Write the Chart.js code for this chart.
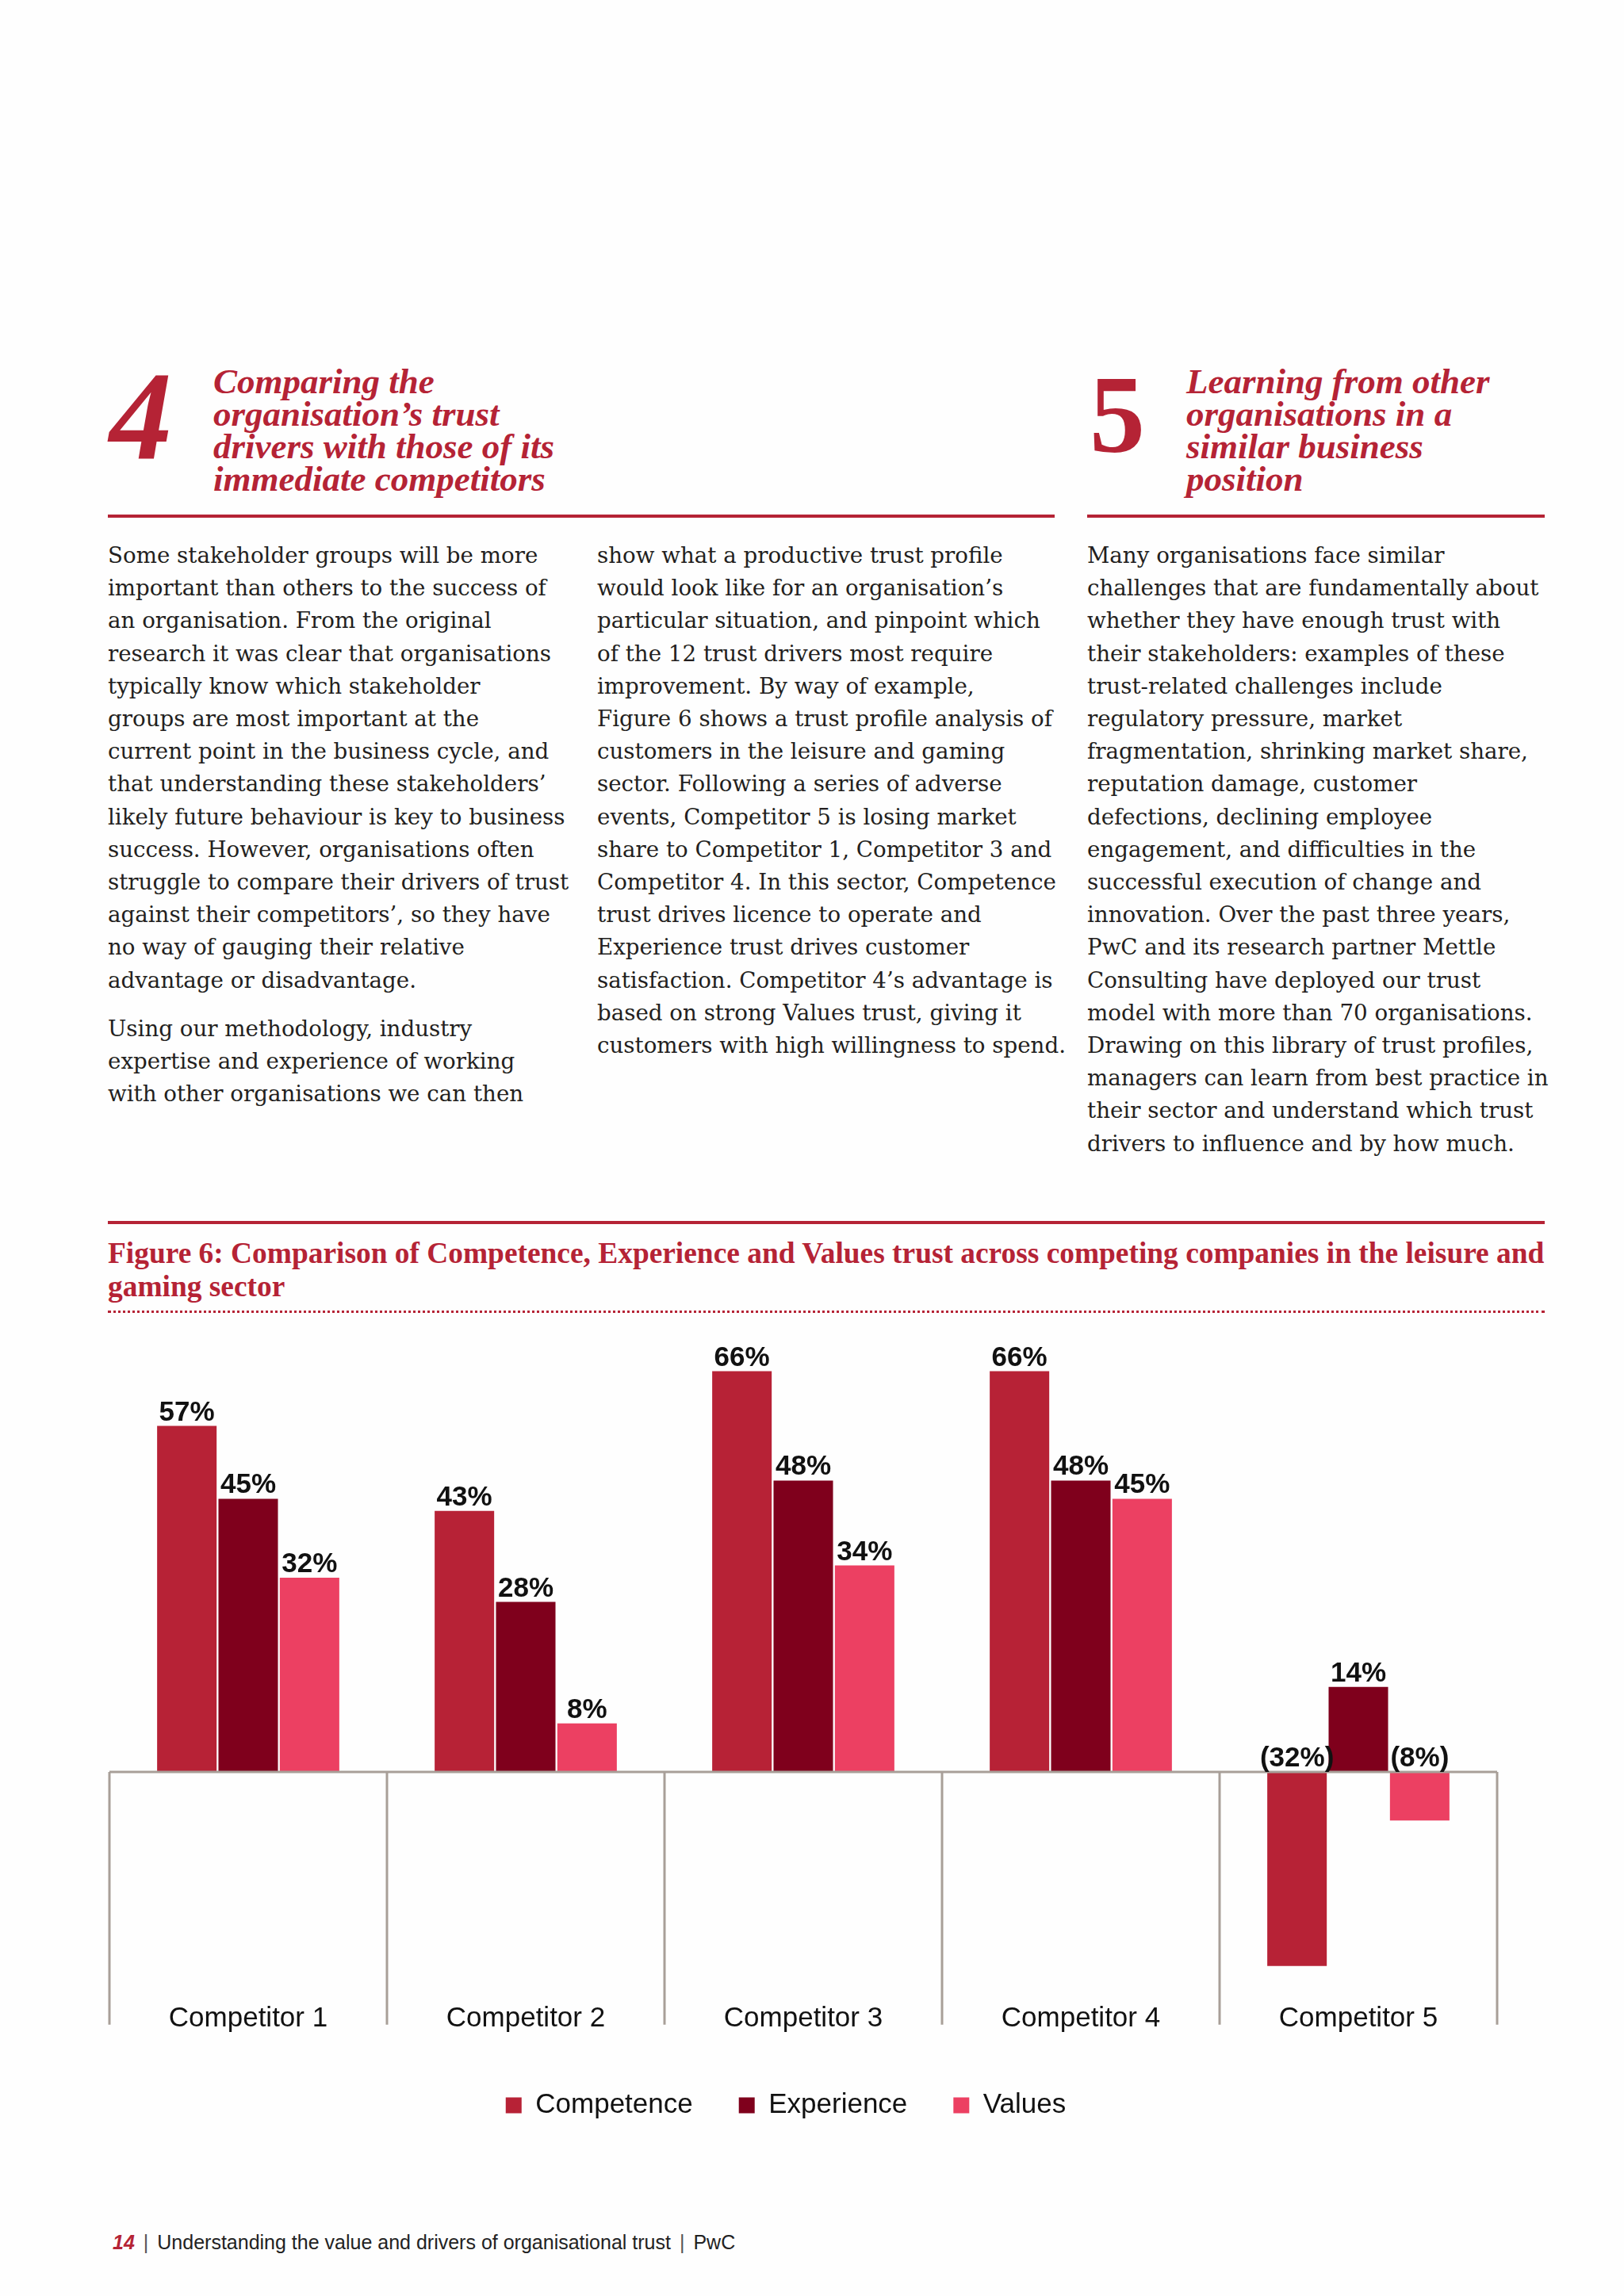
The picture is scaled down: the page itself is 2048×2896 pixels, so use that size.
<!DOCTYPE html>
<html>
<head>
<meta charset="utf-8">
<script src="https://cdn.jsdelivr.net/npm/chart.js@4.4.0/dist/chart.umd.min.js"></script>
<style>
  html, body { margin: 0; padding: 0; }
  body { width: 2048px; height: 2896px; position: relative; overflow: hidden; background: #fefefe; color: #231f20; font-family: "DejaVu Serif", serif; }
  .num { position: absolute; color: #b52335; font-family: "Liberation Serif", serif; font-weight: bold; line-height: 1; }
  .head { position: absolute; top: 461px; color: #b52335; font-family: "Liberation Serif", serif; font-weight: bold; font-style: italic; font-size: 45px; line-height: 41px; white-space: nowrap; }
  .rule { position: absolute; height: 4px; background: #b52335; }
  .col { position: absolute; top: 680px; font-size: 27.7px; line-height: 41.2px; white-space: nowrap; }
  .col p { margin: 0 0 20px 0; }
  .figtitle { position: absolute; left: 136px; top: 1560px; color: #b52335; font-family: "Liberation Serif", serif; font-weight: bold; font-size: 37.4px; line-height: 42px; white-space: nowrap; }
  .dots { position: absolute; left: 136px; top: 1653px; width: 1812px; border-top: 3px dotted #b52335; }
  #chartBox { position: absolute; left: 0; top: 1660px; width: 2048px; height: 1033px; }
  .footer { position: absolute; left: 142px; top: 2814px; font-family: "Liberation Sans", Arial, sans-serif; font-size: 25px; color: #222; white-space: nowrap; }
  .footer b { color: #b52335; font-style: italic; }
  .footer span { color: #555; margin: 0 11px; }
</style>
</head>
<body>

<div class="num" style="left:138px; top:446px; font-size:158px; font-style:italic;">4</div>
<div class="head" style="left:269px;">Comparing the<br>organisation’s trust<br>drivers with those of its<br>immediate competitors</div>
<div class="rule" style="left:136px; top:649px; width:1194px;"></div>

<div class="num" style="left:1374px; top:453px; font-size:140px;">5</div>
<div class="head" style="left:1496px;">Learning from other<br>organisations in a<br>similar business<br>position</div>
<div class="rule" style="left:1371px; top:649px; width:577px;"></div>

<div class="col" style="left:136px;">
<p>Some stakeholder groups will be more<br>important than others to the success of<br>an organisation. From the original<br>research it was clear that organisations<br>typically know which stakeholder<br>groups are most important at the<br>current point in the business cycle, and<br>that understanding these stakeholders’<br>likely future behaviour is key to business<br>success. However, organisations often<br>struggle to compare their drivers of trust<br>against their competitors’, so they have<br>no way of gauging their relative<br>advantage or disadvantage.</p>
<p>Using our methodology, industry<br>expertise and experience of working<br>with other organisations we can then</p>
</div>

<div class="col" style="left:753px;">
<p>show what a productive trust profile<br>would look like for an organisation’s<br>particular situation, and pinpoint which<br>of the 12 trust drivers most require<br>improvement. By way of example,<br>Figure 6 shows a trust profile analysis of<br>customers in the leisure and gaming<br>sector. Following a series of adverse<br>events, Competitor 5 is losing market<br>share to Competitor 1, Competitor 3 and<br>Competitor 4. In this sector, Competence<br>trust drives licence to operate and<br>Experience trust drives customer<br>satisfaction. Competitor 4’s advantage is<br>based on strong Values trust, giving it<br>customers with high willingness to spend.</p>
</div>

<div class="col" style="left:1371px;">
<p>Many organisations face similar<br>challenges that are fundamentally about<br>whether they have enough trust with<br>their stakeholders: examples of these<br>trust-related challenges include<br>regulatory pressure, market<br>fragmentation, shrinking market share,<br>reputation damage, customer<br>defections, declining employee<br>engagement, and difficulties in the<br>successful execution of change and<br>innovation. Over the past three years,<br>PwC and its research partner Mettle<br>Consulting have deployed our trust<br>model with more than 70 organisations.<br>Drawing on this library of trust profiles,<br>managers can learn from best practice in<br>their sector and understand which trust<br>drivers to influence and by how much.</p>
</div>

<div class="rule" style="left:136px; top:1540px; width:1812px;"></div>
<div class="figtitle">Figure 6: Comparison of Competence, Experience and Values trust across competing companies in the leisure and<br>gaming sector</div>
<div class="dots"></div>

<div id="chartBox"><canvas id="trustChart"></canvas></div>

<div class="footer"><b>14</b><span>|</span>Understanding the value and drivers of organisational trust<span>|</span>PwC</div>

<script>
// categories and series
const competitors = ['Competitor 1', 'Competitor 2', 'Competitor 3', 'Competitor 4', 'Competitor 5'];
const competence = [57, 43, 66, 66, -32];
const experience = [45, 28, 48, 48, 14];
const values = [32, 8, 34, 45, -8];

const yMin = -38;
const yMax = 70;

// zero line plus the category dividers hanging below it (down past the labels' top)
const frameLines = {
    id: 'frameLines',
    afterDatasetsDraw(chart) {
        const { ctx, chartArea, scales: { x, y } } = chart;
        const zero = y.getPixelForValue(0);
        const step = x.getPixelForValue(1) - x.getPixelForValue(0);
        const drop = chartArea.bottom + x.options.grid.tickLength;
        ctx.save();
        ctx.strokeStyle = '#a89f98';
        ctx.lineWidth = 3;
        ctx.beginPath();
        ctx.moveTo(chartArea.left, zero);
        ctx.lineTo(chartArea.right, zero);
        for (let i = 0; i <= competitors.length; i++) {
            const px = x.getPixelForValue(0) - step / 2 + i * step;
            ctx.moveTo(px, zero);
            ctx.lineTo(px, drop);
        }
        ctx.stroke();
        ctx.restore();
    }
};

// value labels; negatives in brackets and sat on the zero line
const valueLabels = {
    id: 'valueLabels',
    afterDatasetsDraw(chart) {
        const { ctx } = chart;
        ctx.save();
        ctx.font = 'bold 35px "Liberation Sans", Arial, sans-serif';
        ctx.fillStyle = '#111';
        ctx.textAlign = 'center';
        ctx.textBaseline = 'alphabetic';
        chart.data.datasets.forEach((ds, i) => {
            chart.getDatasetMeta(i).data.forEach((bar, j) => {
                const v = ds.data[j];
                const top = v < 0 ? bar.base : bar.y;
                const txt = v < 0 ? `(${Math.abs(v)}%)` : `${v}%`;
                ctx.fillText(txt, bar.x, top - 7);
            });
        });
        ctx.restore();
    }
};

// the printed legend sits a little left of the plot centre
const legendNudge = {
    id: 'legendNudge',
    afterLayout(chart) {
        if (!chart.legend) return;
        chart.legend.left -= 22;
        chart.legend.right -= 22;
    }
};

const barStyle = { barPercentage: 0.97, categoryPercentage: 0.663, borderWidth: 0 };
const sansFont = '"Liberation Sans", Arial, sans-serif';

new Chart(document.getElementById('trustChart'), {
    type: 'bar',
    data: {
        labels: competitors,
        datasets: [
            { label: 'Competence', data: competence, backgroundColor: '#b72236', ...barStyle },
            { label: 'Experience', data: experience, backgroundColor: '#7f001c', ...barStyle },
            { label: 'Values', data: values, backgroundColor: '#ec4062', ...barStyle }
        ]
    },
    options: {
        responsive: true,
        maintainAspectRatio: false,
        animation: false,
        layout: { padding: { left: 138, right: 160, top: 39, bottom: 10 } },
        plugins: {
            tooltip: { enabled: false },
            legend: {
                position: 'bottom',
                labels: {
                    color: '#111',
                    font: { family: sansFont, size: 35 },
                    boxWidth: 20,
                    boxHeight: 20,
                    padding: 58
                }
            }
        },
        scales: {
            x: {
                grid: { display: true, drawOnChartArea: false, drawTicks: true, tickLength: 28, color: 'transparent' },
                border: { display: false },
                ticks: {
                    color: '#111',
                    font: { family: sansFont, size: 35 },
                    padding: -28
                },
                // empty title only to leave room above the legend
                title: { display: true, text: ' ', font: { size: 1 }, padding: { top: 39, bottom: 0 } }
            },
            y: {
                display: false,
                min: yMin,
                max: yMax
            }
        }
    },
    plugins: [frameLines, valueLabels, legendNudge]
});
</script>
</body>
</html>
